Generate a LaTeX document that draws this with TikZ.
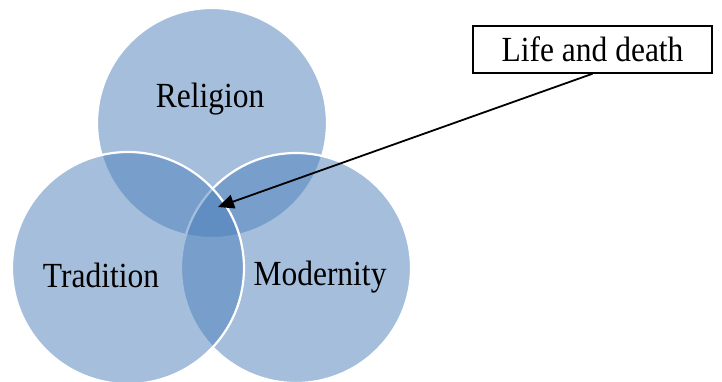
\documentclass[tikz,border=0pt]{standalone}
\usepackage{fontspec}
\setmainfont{Liberation Serif}
\usetikzlibrary{arrows.meta}
\definecolor{venn}{RGB}{76,127,187}
\newcommand{\tallText}[1]{\scalebox{1}[1.12]{#1}}
\tikzset{
  venncircle/.style={fill=venn, fill opacity=0.5, draw=white, draw opacity=1, line width=2.2pt},
  lbl/.style={font=\fontsize{31.5}{36}\selectfont, inner sep=0pt},
  callout/.style={draw=black, line width=1.5pt, minimum width=239pt, minimum height=47pt, font=\fontsize{31.5}{36}\selectfont, inner sep=0pt, fill=white},
  pointer/.style={draw=black, line width=1.8pt, -{Triangle[length=16pt,width=14pt]}}
}
\begin{document}
\begin{tikzpicture}[x=1pt,y=-1pt]
\useasboundingbox (0,0) rectangle (722,381);
\fill[white] (0,0) rectangle (722,381);
\path[venncircle] (212,123) circle[radius=115pt];
\path[venncircle] (296,268) circle[radius=115pt];
\path[venncircle] (128,268) circle[radius=116pt];
\node[lbl] (rel) at (210,99) {\tallText{Religion}};
\node[lbl] (tra) at (101,275) {\tallText{Tradition}};
\node[lbl] (mod) at (320,277) {\tallText{Modernity}};
\node[callout] (box) at (592.5,49.5) {\tallText{Life and death}};
\coordinate (tip) at (218,207);
\draw[pointer] (box.south) -- (tip);
\end{tikzpicture}
\end{document}
